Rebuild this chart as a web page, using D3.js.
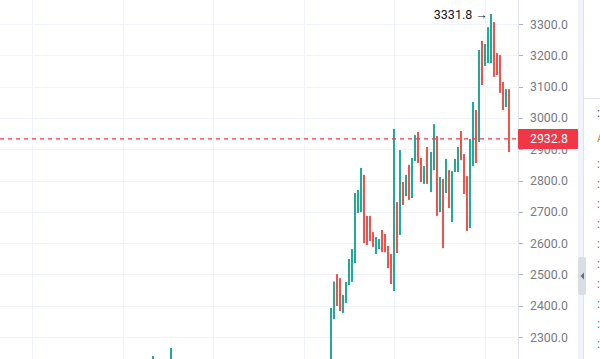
<!DOCTYPE html>
<html><head><meta charset="utf-8">
<script src="https://cdn.jsdelivr.net/npm/d3@7"></script>
<style>body{margin:0;background:#fff;overflow:hidden}svg{display:block}</style>
</head><body><svg id="c" width="600" height="359"></svg>
<script>
// ---- data ----
const barIndex = [-59,-53,0,1,2,3,4,5,6,7,8,9,10,11,12,13,14,15,16,17,18,19,20,21,22,23,24,25,26,27,28,29,30,31,32,33,34,35,36,37,38,39,40,41,42,43,44,45,46,47,48,49,50,51,52,53,54,55,56,57,58,59];
const highs = [2239,2265,2393,2477,2501,2488,2434,2476,2549,2581,2760,2770,2840,2818,2687,2687,2635,2619,2613,2642,2629,2591,2565,2965,2731,2897,2795,2818,2850,2872,2945,2955,2872,2846,2907,2891,2980,2942,2811,2805,2869,2833,2830,2869,2907,2958,2885,2814,2933,3051,3025,3217,3246,3236,3290,3331.8,3306,3207,3201,3115,3092,3092];
const lows  = [2180,2200,2210,2357,2399,2383,2377,2409,2466,2476,2536,2696,2699,2600,2594,2607,2588,2565,2581,2571,2571,2520,2469,2447,2568,2626,2722,2750,2738,2744,2862,2856,2795,2789,2789,2763,2833,2687,2699,2584,2760,2712,2667,2827,2827,2865,2757,2639,2648,2846,2856,2923,3105,3166,3175,3175,3131,3137,3080,3025,3035,2891];
const dirs  = [1,1,1,1,-1,-1,1,1,1,1,1,1,1,-1,-1,-1,-1,1,1,-1,-1,-1,-1,1,-1,1,-1,1,-1,1,1,-1,-1,1,-1,1,1,-1,1,-1,1,-1,1,1,1,-1,-1,-1,1,1,-1,1,-1,1,1,1,-1,-1,-1,-1,1,-1];
const lastPrice = 2932.8;
const maxPrice = 3331.8;
const yTicks = [2300,2400,2500,2600,2700,2800,2900,3000,3100,3200,3300];
const gridIndex = [-99,-69,-39,-9,21,51];
const panelRows = ["red","red","red","red","red","red","red","green","green","green"];

// ---- layout ----
const W = 600, H = 359, plotR = 518;
const svg = d3.select("#c");
const x = d3.scaleLinear().domain([-109.7, 62]).range([0, plotR]);
const y = d3.scaleLinear().domain([2300, 3300]).range([337, 24]);
const UP = "#22ab94", DOWN = "#ef5350", LABEL = "#f23645";
const font = "Roboto, 'Liberation Sans', Arial, sans-serif";

svg.append("rect").attr("width", W).attr("height", H).attr("fill", "#fff");

svg.append("defs").append("clipPath").attr("id","clip")
  .append("rect").attr("x",0).attr("y",0).attr("width",plotR).attr("height",H);

const plot = svg.append("g").attr("clip-path","url(#clip)");

// grid
plot.selectAll(".hg").data(yTicks).join("line")
  .attr("x1",0).attr("x2",plotR)
  .attr("y1",d=>Math.round(y(d))+0.5).attr("y2",d=>Math.round(y(d))+0.5)
  .attr("stroke","#f0f3fa").attr("stroke-width",1);
plot.selectAll(".vg").data(gridIndex).join("line")
  .attr("x1",d=>Math.round(x(d))+0.5).attr("x2",d=>Math.round(x(d))+0.5)
  .attr("y1",0).attr("y2",H)
  .attr("stroke","#f0f3fa").attr("stroke-width",1);

// bars
const bars = barIndex.map((k,i)=>({k, h:highs[i], l:lows[i], d:dirs[i]}));
plot.selectAll(".bar").data(bars).join("rect")
  .attr("x",d=>Math.round(x(d.k))-1)
  .attr("width",2)
  .attr("y",d=>y(d.h))
  .attr("height",d=>Math.max(1,y(d.l)-y(d.h)))
  .attr("fill",d=>d.d>0?UP:DOWN);

// last price dashed line
plot.append("line")
  .attr("x1",0).attr("x2",plotR)
  .attr("y1",y(lastPrice)).attr("y2",y(lastPrice))
  .attr("stroke",LABEL).attr("stroke-width",1.3)
  .attr("stroke-dasharray","4,4");

// max annotation
const maxBar = bars.find(b=>b.h===maxPrice);
const ann = svg.append("text")
  .attr("x", x(maxBar.k)-3).attr("y", y(maxPrice)+4.5)
  .attr("text-anchor","end")
  .attr("font-family",font).attr("font-size",12.5).attr("fill","#131722");
ann.append("tspan").text(maxPrice.toFixed(1)+" ");
ann.append("tspan").attr("font-weight","bold").text("\u2192");

// right axis
svg.append("line").attr("x1",plotR+0.5).attr("x2",plotR+0.5).attr("y1",0).attr("y2",H)
  .attr("stroke","#e0e3eb");
const ax = svg.append("g");
ax.selectAll("line").data(yTicks).join("line")
  .attr("x1",plotR+1).attr("x2",plotR+5)
  .attr("y1",d=>Math.round(y(d))+0.5).attr("y2",d=>Math.round(y(d))+0.5)
  .attr("stroke","#b2b5be");
ax.selectAll("text").data(yTicks).join("text")
  .attr("x",530).attr("y",d=>y(d)+4.5)
  .attr("font-family",font).attr("font-size",12.3).attr("fill","#787b86")
  .text(d=>d3.format(".1f")(d));

// last price label
svg.append("rect").attr("x",plotR).attr("y",y(lastPrice)-10).attr("width",60).attr("height",20)
  .attr("fill",LABEL).attr("rx",1);
svg.append("text").attr("x",530).attr("y",y(lastPrice)+4.5)
  .attr("font-family",font).attr("font-size",12.3).attr("fill","#fff")
  .text(lastPrice.toFixed(1));

// side panel edge
svg.append("rect").attr("x",578).attr("y",0).attr("width",5).attr("height",H).attr("fill","#f0f3fa");
svg.append("line").attr("x1",583.5).attr("x2",583.5).attr("y1",0).attr("y2",H).attr("stroke","#e0e3eb");
svg.append("line").attr("x1",584).attr("x2",600).attr("y1",98.5).attr("y2",98.5).attr("stroke","#e0e3eb");
svg.append("rect").attr("x",578).attr("y",257).attr("width",8).attr("height",38).attr("rx",2).attr("fill","#dadde3");
svg.append("path").attr("d","M580.5,276 L584,272.5 L584,279.5 Z").attr("fill","#6a6d78");
svg.append("text").attr("x",597).attr("y",117).attr("font-family",font).attr("font-size",12).attr("fill","#444").text(":");
svg.append("text").attr("x",597).attr("y",142).attr("font-family",font).attr("font-size",12).attr("fill","#b59a2a").text("A");
svg.selectAll(".pr").data(panelRows).join("text")
  .attr("x",597).attr("y",(d,i)=>168+i*20)
  .attr("font-family",font).attr("font-size",12)
  .attr("fill",d=>d==="red"?"#f23645":"#089981")
  .text(":");
</script></body></html>
